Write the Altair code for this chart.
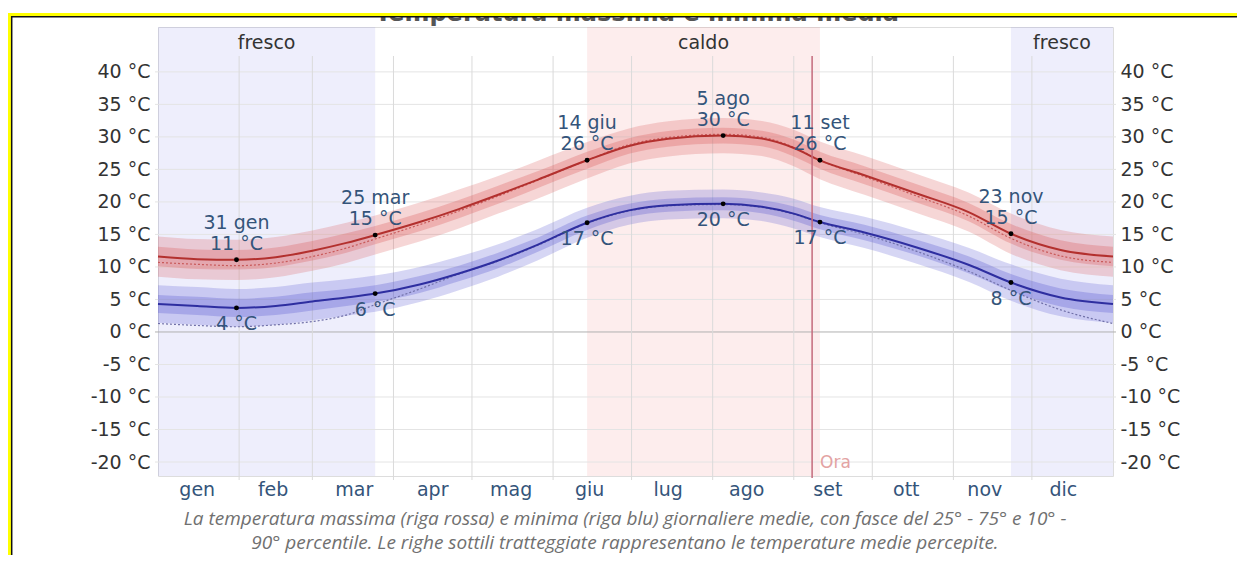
import altair as alt
import pandas as pd

# ---------------- data ----------------
days = [0, 15, 30, 45, 59, 72, 83, 100, 115, 130, 145, 164, 180, 195, 216, 230, 243, 253, 270, 290, 310, 326, 345, 365]
high = [11.6, 11.2, 11.1, 11.5, 12.5, 13.7, 14.9, 16.9, 18.9, 21.1, 23.4, 26.4, 28.6, 29.7, 30.2, 29.8, 28.3, 26.4, 24.1, 21.3, 18.4, 15.1, 12.6, 11.6]
low = [4.3, 4.0, 3.7, 4.0, 4.7, 5.3, 5.9, 7.3, 9.0, 11.0, 13.4, 16.8, 18.7, 19.5, 19.7, 19.3, 18.2, 16.9, 15.3, 13.0, 10.3, 7.6, 5.3, 4.3]
high_feel = [10.7, 10.4, 10.2, 10.6, 11.6, 12.9, 14.3, 16.5, 18.6, 20.9, 23.3, 26.4, 28.8, 29.9, 30.4, 30.0, 28.4, 26.4, 23.9, 20.9, 17.8, 14.4, 11.7, 10.7]
low_feel = [1.3, 1.0, 0.8, 1.1, 1.6, 2.6, 4.2, 6.6, 8.9, 10.9, 13.3, 16.7, 18.6, 19.4, 19.6, 19.2, 18.1, 16.8, 15.0, 12.4, 9.3, 6.4, 3.4, 1.3]
# half widths of the percentile bands (25-75 and 10-90)
high_spread_25_75 = [1.5, 1.5, 1.5, 1.5, 1.5, 1.5, 1.4, 1.4, 1.4, 1.4, 1.3, 1.3, 1.2, 1.2, 1.2, 1.2, 1.3, 1.3, 1.4, 1.4, 1.4, 1.5, 1.5, 1.5]
high_spread_10_90 = [3.1, 3.1, 3.1, 3.1, 3.1, 3.1, 3.0, 3.0, 3.0, 2.9, 2.9, 2.8, 2.7, 2.7, 2.7, 2.7, 2.8, 2.9, 3.0, 3.0, 3.0, 3.1, 3.1, 3.1]
low_spread_25_75 = [1.4, 1.4, 1.4, 1.4, 1.4, 1.3, 1.3, 1.3, 1.2, 1.2, 1.1, 1.1, 1.0, 1.0, 1.0, 1.0, 1.1, 1.1, 1.2, 1.2, 1.3, 1.3, 1.4, 1.4]
low_spread_10_90 = [2.9, 2.9, 2.9, 2.9, 2.9, 2.8, 2.8, 2.7, 2.6, 2.5, 2.4, 2.3, 2.2, 2.2, 2.2, 2.2, 2.3, 2.3, 2.4, 2.5, 2.6, 2.8, 2.9, 2.9]

month_names = ["gen", "feb", "mar", "apr", "mag", "giu", "lug", "ago", "set", "ott", "nov", "dic"]
month_start = [0, 31, 59, 90, 120, 151, 181, 212, 243, 273, 304, 334]
month_label_day = [15, 44, 75, 105, 135, 165, 195, 225, 256, 286, 316, 346]

season_names = ["fresco", "caldo", "fresco"]
season_kind = ["cool", "hot", "cool"]
season_start = [0, 164, 326]
season_end = [83, 253, 365]

ann_days = [30, 83, 164, 216, 253, 326]
ann_dates = ["31 gen", "25 mar", "14 giu", "5 ago", "11 set", "23 nov"]
ann_high_text = ["11 °C", "15 °C", "26 °C", "30 °C", "26 °C", "15 °C"]
ann_low_text = ["4 °C", "6 °C", "17 °C", "20 °C", "17 °C", "8 °C"]

now_day = [250]
now_label = ["Ora"]

y_ticks = [-20, -15, -10, -5, 0, 5, 10, 15, 20, 25, 30, 35, 40]

title_text = "Temperatura massima e minima media"
caption_1 = "La temperatura massima (riga rossa) e minima (riga blu) giornaliere medie, con fasce del 25° - 75° e 10° -"
caption_2 = "90° percentile. Le righe sottili tratteggiate rappresentano le temperature medie percepite."

# ---------------- tables ----------------
df = pd.DataFrame(dict(day=days, high=high, low=low, high_feel=high_feel, low_feel=low_feel))
df["h25"] = df["high"] - pd.Series(high_spread_25_75)
df["h75"] = df["high"] + pd.Series(high_spread_25_75)
df["h10"] = df["high"] - pd.Series(high_spread_10_90)
df["h90"] = df["high"] + pd.Series(high_spread_10_90)
df["l25"] = df["low"] - pd.Series(low_spread_25_75)
df["l75"] = df["low"] + pd.Series(low_spread_25_75)
df["l10"] = df["low"] - pd.Series(low_spread_10_90)
df["l90"] = df["low"] + pd.Series(low_spread_10_90)

ann = pd.DataFrame(dict(day=ann_days, date=ann_dates, htxt=ann_high_text, ltxt=ann_low_text))
ann = ann.merge(df[["day", "high", "low"]], on="day", how="left")

months = pd.DataFrame(dict(name=month_names, start=month_start, mid=month_label_day))
seasons = pd.DataFrame(dict(name=season_names, kind=season_kind, start=season_start, end=season_end))
seasons["center"] = (seasons["start"] + seasons["end"]) / 2
now = pd.DataFrame(dict(day=now_day, label=now_label))
ticks_df = pd.DataFrame(dict(v=y_ticks))

# ---------------- layout ----------------
W, H = 955, 449
FONT = "DejaVu Sans"
TXT = "#34547a"
xs = alt.Scale(domain=[0, 365], nice=False, zero=False)
ys = alt.Scale(domain=[-22.15, 46.9], nice=False, zero=False)
X = lambda f: alt.X(f, type="quantitative", scale=xs, axis=None)
Y = lambda f: alt.Y(f, type="quantitative", scale=ys, axis=None)

one = alt.Data(values=[{}])

season_rect = alt.Chart(seasons).mark_rect(opacity=0.1).encode(
    x=X("start"), x2="end", y=alt.value(0), y2=alt.value(H),
    color=alt.Color("kind:N", scale=alt.Scale(domain=["cool", "hot"], range=["#5a5ae0", "#f05050"]), legend=None),
)
season_text = alt.Chart(seasons).mark_text(font=FONT, fontSize=19, color="#333", baseline="middle").encode(
    x=X("center"), y=alt.value(16), text="name:N"
)
vgrid = alt.Chart(months[months["start"] > 0]).mark_rule(color="#dadada", strokeWidth=1).encode(
    x=X("start"), y=alt.value(29), y2=alt.value(453)
)
hgrid = alt.Chart(ticks_df).mark_rule(strokeWidth=1).encode(
    y=Y("v"), x=alt.value(-3), x2=alt.value(W + 3),
    color=alt.condition("datum.v == 0", alt.value("#b0b0b0"), alt.value("#e4e4e4")),
)

base = alt.Chart(df)
h_out = base.mark_area(color="#dc5a5a", opacity=0.25, interpolate="monotone").encode(x=X("day"), y=Y("h10"), y2="h90")
h_in = base.mark_area(color="#dc5a5a", opacity=0.3, interpolate="monotone").encode(x=X("day"), y=Y("h25"), y2="h75")
l_out = base.mark_area(color="#5a5ad2", opacity=0.25, interpolate="monotone").encode(x=X("day"), y=Y("l10"), y2="l90")
l_in = base.mark_area(color="#5a5ad2", opacity=0.3, interpolate="monotone").encode(x=X("day"), y=Y("l25"), y2="l75")
h_feel = base.mark_line(color="#c85a5a", strokeWidth=1.2, strokeDash=[2, 2], interpolate="monotone").encode(x=X("day"), y=Y("high_feel"))
l_feel = base.mark_line(color="#7070a8", strokeWidth=1.2, strokeDash=[2, 2], interpolate="monotone").encode(x=X("day"), y=Y("low_feel"))
h_line = base.mark_line(color="#b3302e", strokeWidth=2, interpolate="monotone").encode(x=X("day"), y=Y("high"))
l_line = base.mark_line(color="#2e2ea0", strokeWidth=2, interpolate="monotone").encode(x=X("day"), y=Y("low"))

now_rule = alt.Chart(now).mark_rule(color="#c46a7c", strokeWidth=1.5).encode(
    x=X("day"), y=alt.value(29), y2=alt.value(451)
)
now_text = alt.Chart(now).mark_text(font=FONT, fontSize=17, color="#e3a3a3", align="left", baseline="middle", dx=8).encode(
    x=X("day"), y=alt.value(436), text="label:N"
)

ann_base = alt.Chart(ann)
dots_h = ann_base.mark_circle(color="black", size=24, opacity=1).encode(x=X("day"), y=Y("high"))
dots_l = ann_base.mark_circle(color="black", size=24, opacity=1).encode(x=X("day"), y=Y("low"))
tstyle = dict(font=FONT, fontSize=19, color=TXT, baseline="middle", align="center")
date_t = ann_base.mark_text(dy=-37, **tstyle).encode(x=X("day"), y=Y("high"), text="date:N")
htxt = ann_base.mark_text(dy=-16, **tstyle).encode(x=X("day"), y=Y("high"), text="htxt:N")
ltxt = ann_base.mark_text(dy=16, **tstyle).encode(x=X("day"), y=Y("low"), text="ltxt:N")

month_text = alt.Chart(months).mark_text(font=FONT, fontSize=19, color=TXT, baseline="middle").encode(
    x=X("mid"), y=alt.value(463), text="name:N"
)

cap_style = dict(font="Open Sans", fontStyle="italic", fontSize=19, color="#707070", baseline="middle")
cap1 = alt.Chart(one).mark_text(text=caption_1, **cap_style).encode(x=alt.value(467), y=alt.value(492))
cap2 = alt.Chart(one).mark_text(text=caption_2, **cap_style).encode(x=alt.value(467), y=alt.value(515.5))

title_t = alt.Chart(one).mark_text(text=title_text, font=FONT, fontSize=24, fontWeight="bold", color="#555", baseline="alphabetic").encode(
    x=alt.value(479), y=alt.value(-6))
cover = alt.Chart(one).mark_rect(color="white", opacity=1).encode(
    x=alt.value(-150), x2=alt.value(1079), y=alt.value(-20), y2=alt.value(-12))
frame_top_y = alt.Chart(one).mark_rule(color="#ffff00", strokeWidth=3).encode(
    x=alt.value(-150), x2=alt.value(1079), y=alt.value(-12.5))
frame_top_k = alt.Chart(one).mark_rule(color="#111", strokeWidth=1.5).encode(
    x=alt.value(-146), x2=alt.value(1079), y=alt.value(-10.3))
frame_left_y = alt.Chart(one).mark_rule(color="#ffff00", strokeWidth=3).encode(
    x=alt.value(-148.5), y=alt.value(-14), y2=alt.value(540))
frame_left_k = alt.Chart(one).mark_rule(color="#111", strokeWidth=1.5).encode(
    x=alt.value(-146.3), y=alt.value(-11), y2=alt.value(540))

main = alt.layer(
    season_rect, hgrid, vgrid, season_text,
    h_out, h_in, l_out, l_in, h_feel, l_feel, h_line, l_line,
    now_rule, now_text, dots_h, dots_l, date_t, htxt, ltxt, month_text,
    cap1, cap2, title_t, cover, frame_top_y, frame_top_k, frame_left_y, frame_left_k,
)


def side_axis(orient, pad):
    return alt.Chart(ticks_df).mark_point(opacity=0).encode(
        y=alt.Y("v:Q", scale=ys, axis=alt.Axis(
            orient=orient, values=y_ticks, labelExpr="datum.value + ' °C'", title=None,
            ticks=False, domain=False, labelFont=FONT, labelFontSize=19, labelColor="#333",
            labelPadding=pad, grid=False)),
        x=alt.value(0),
    )


chart = alt.layer(main, side_axis("left", 8), side_axis("right", 7)).resolve_scale(y="independent").properties(
    width=W, height=H,
    autosize=alt.AutoSizeParams(type="none"),
    padding={"left": 150, "top": 19, "right": 124, "bottom": 79},
).configure_view(stroke=None).configure(background="white")

chart.save("out.html", embed_options={"renderer": "svg", "actions": False})
